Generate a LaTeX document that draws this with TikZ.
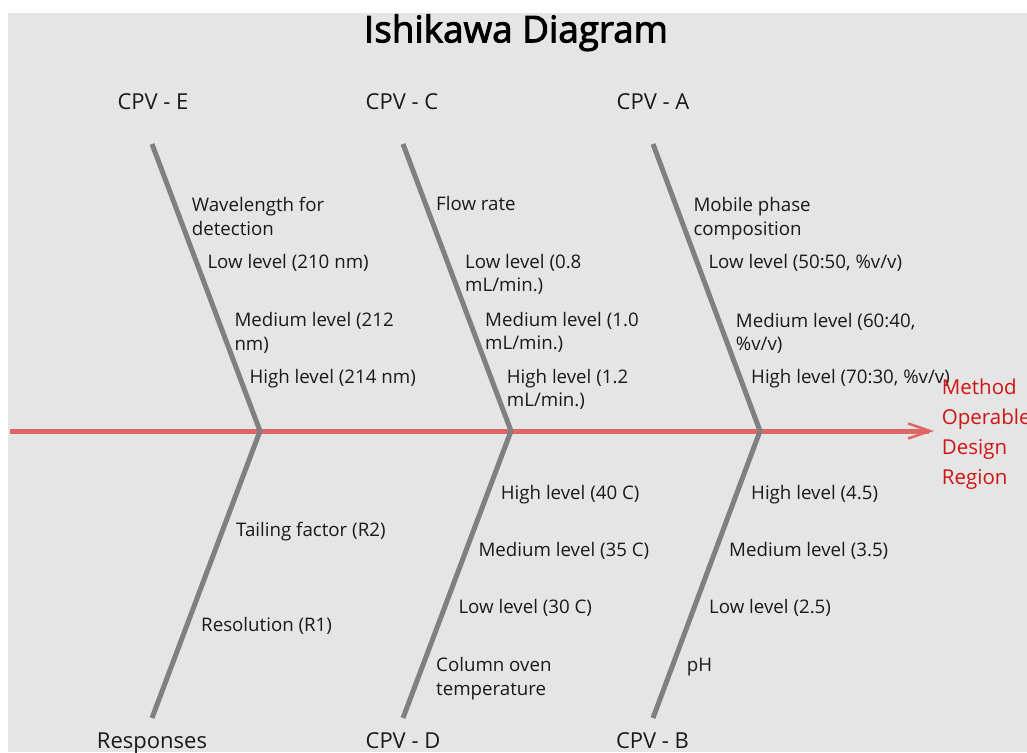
\documentclass[tikz,border=0pt]{standalone}
\usepackage{fontspec}
\setmainfont{Open Sans}
\newfontfamily\titlefont[FakeBold=2.5]{Open Sans}
\usetikzlibrary{arrows.meta}
\definecolor{bgc}{HTML}{E5E5E5}
\definecolor{bonec}{HTML}{808080}
\definecolor{spinec}{HTML}{E06666}
\definecolor{outc}{HTML}{D01414}
\definecolor{txtc}{HTML}{1A1A1A}
\begin{document}
\begin{tikzpicture}[x=1pt,y=-1pt,
  lbl/.style={anchor=base west, inner sep=0pt, align=left, text=txtc,
    font=\fontsize{18.7}{23.3}\selectfont},
  cat/.style={anchor=base, inner sep=0pt, text=txtc,
    font=\fontsize{22}{26}\selectfont},
  bonestyle/.style={draw=bonec, line width=5pt, line join=miter},
  spinestyle/.style={draw=spinec, line width=5pt,
    -{Straight Barb[length=22pt,width=15pt,line width=2.5pt]}},
  outstyle/.style={anchor=base west, inner sep=0pt, align=left, text=outc,
    font=\fontsize{20.5}{30}\selectfont},
  titlestyle/.style={anchor=base, inner sep=0pt, text=black,
    font=\titlefont\fontsize{36.8}{40}\selectfont}]
\useasboundingbox (0,0) rectangle (1027,752);
\fill[bgc] (8,13) rectangle (1027,752);

\node[titlestyle] (title) at (516,42.3) {Ishikawa Diagram};

% spine
\coordinate (tail) at (10,431);
\coordinate (head) at (934,431);
\draw[spinestyle] (tail) -- (head);

% bones
\coordinate (tE) at (152,144); \coordinate (vE) at (260,431); \coordinate (bR) at (152,718);
\coordinate (tC) at (403,144); \coordinate (vC) at (511,431); \coordinate (bD) at (403,718);
\coordinate (tA) at (653,144); \coordinate (vA) at (760,431); \coordinate (bB) at (653,718);
\draw[bonestyle] (tE) -- (vE) -- (bR);
\draw[bonestyle] (tC) -- (vC) -- (bD);
\draw[bonestyle] (tA) -- (vA) -- (bB);

% category labels
\node[cat] (cpvE) at (153,109) {CPV - E};
\node[cat] (cpvC) at (402,109) {CPV - C};
\node[cat] (cpvA) at (653,109) {CPV - A};
\node[cat] (resp) at (152,748.3) {Responses};
\node[cat] (cpvD) at (403,748.3) {CPV - D};
\node[cat] (cpvB) at (652.5,748.3) {CPV - B};

% CPV - E
\node[lbl] (e0) at (191.7,235) {Wavelength for\\detection};
\node[lbl] (e1) at (207.3,268.3) {Low level (210 nm)};
\node[lbl] (e2) at (234.3,350) {Medium level (212\\nm)};
\node[lbl] (e3) at (249.3,383.3) {High level (214 nm)};

% CPV - C
\node[lbl] (c0) at (436,210.7) {Flow rate};
\node[lbl] (c1) at (465,291.6) {Low level (0.8\\mL/min.)};
\node[lbl] (c2) at (485,349.6) {Medium level (1.0\\mL/min.)};
\node[lbl] (c3) at (506.7,406.6) {High level (1.2\\mL/min.)};

% CPV - A
\node[lbl] (a0) at (693.3,235) {Mobile phase\\composition};
\node[lbl] (a1) at (708.3,268.3) {Low level (50:50, \%v/v)};
\node[lbl] (a2) at (735.7,350.3) {Medium level (60:40,\\\%v/v)};
\node[lbl] (a3) at (751,383.3) {High level (70:30, \%v/v)};

% outcome
\node[outstyle] (out) at (941.7,484) {Method\\Operable\\Design\\Region};

% Responses
\node[lbl] (r2) at (236,536.7) {Tailing factor (R2)};
\node[lbl] (r1) at (201,631.7) {Resolution (R1)};

% CPV - D
\node[lbl] (d3) at (500.7,499.3) {High level (40 C)};
\node[lbl] (d2) at (478.3,556) {Medium level (35 C)};
\node[lbl] (d1) at (458.3,613.3) {Low level (30 C)};
\node[lbl] (d0) at (436,695) {Column oven\\temperature};

% CPV - B
\node[lbl] (b3) at (751,499.3) {High level (4.5)};
\node[lbl] (b2) at (729,556) {Medium level (3.5)};
\node[lbl] (b1) at (709,613.3) {Low level (2.5)};
\node[lbl] (b0) at (686.7,671.7) {pH};
\end{tikzpicture}
\end{document}
